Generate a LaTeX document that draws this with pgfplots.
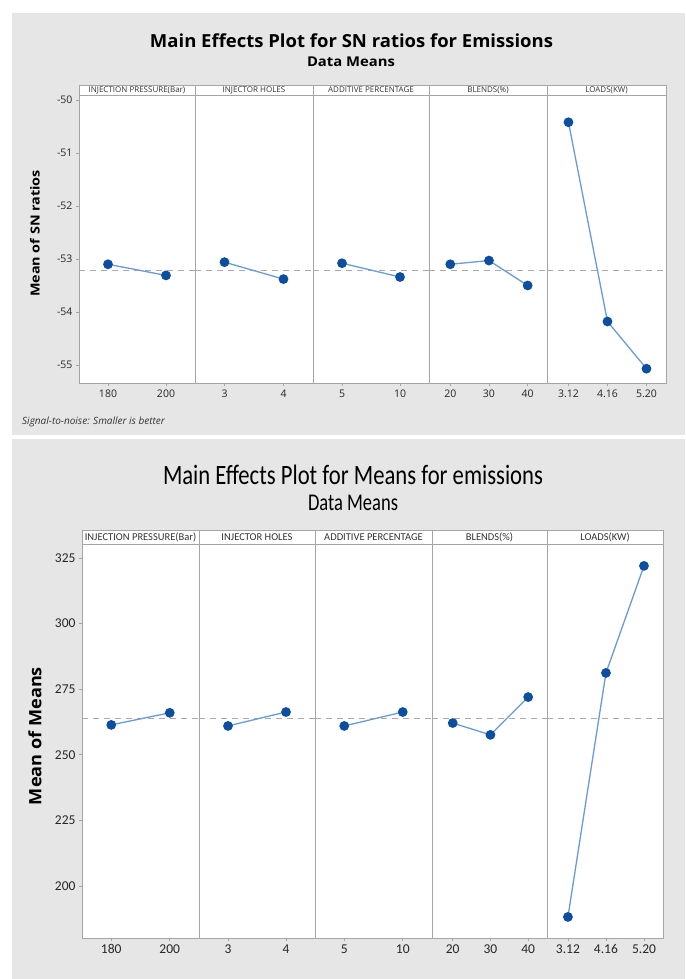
\documentclass[border=0pt]{standalone}
\usepackage{fontspec}
\setmainfont{Open Sans}
\newfontfamily\cl{Carlito}
\usepackage{graphicx}
\usepackage{pgfplots}
\pgfplotsset{compat=1.18}

\definecolor{bg}{RGB}{230,230,230}
\definecolor{frame}{RGB}{165,165,165}
\definecolor{mk}{RGB}{12,78,160}
\definecolor{ln}{RGB}{105,155,215}
\definecolor{refl}{RGB}{170,170,170}

% strip above each panel: label, font, height
\newcommand{\strip}[3]{%
  \draw[frame, line width=0.8pt, fill=white] (rel axis cs:0,1) rectangle ([yshift=#3]rel axis cs:1,1);
  \node[font=#2, text=black!80, inner sep=0pt] at ([yshift=#3/2]rel axis cs:0.5,1) {#1};}

\pgfplotsset{
  mep/.style={anchor=south west, scale only axis,
    axis background/.style={fill=white},
    axis line style={draw=frame, line width=0.8pt},
    tick style={draw=frame, line width=0.6pt},
    tick align=outside, major tick length=3pt,
    xtick pos=bottom, ytick pos=left, ytick=\empty,
    clip=false,
    /pgf/number format/assume math mode=true},
  topax/.style={mep, height=288pt, ymin=-55.34, ymax=-49.906,
    ticklabel style={font=\fontsize{10.5}{12}\selectfont, text=black!85}},
  botax/.style={mep, height=394pt, ymin=180.18, ymax=330.34,
    ticklabel style={font=\cl\fontsize{13.5}{15}\selectfont, text=black!85}},
  two/.style={xmin=0.5, xmax=2.5, xtick={1,2}},
  three/.style={xmin=0.45, xmax=3.5, xtick={1,2,3}},
  ser/.style={color=ln, line width=1.3pt, mark=*, mark size=4.2pt, mark options={fill=mk, draw=mk}},
  refline/.style={color=refl, line width=1.1pt, dash pattern=on 6pt off 5pt},
}

\begin{document}
\begin{tikzpicture}[x=1pt, y=1pt]
\fill[white] (0,0) rectangle (685,979);
\useasboundingbox (0,0) rectangle (685,979);
\fill[bg] (12,544) rectangle (685,966);
\fill[bg] (12,0) rectangle (685,540);

% ---------- top chart: SN ratios ----------
\node[anchor=base, inner sep=0pt] at (351.5,931) {\resizebox{403pt}{\height}{\fontsize{18}{20}\selectfont\bfseries Main Effects Plot for SN ratios for Emissions}};
\node[anchor=base, inner sep=0pt] at (351,912) {\resizebox{88pt}{\height}{\fontsize{13.5}{15}\selectfont\bfseries Data Means}};
\node[rotate=90, inner sep=0pt] at (35,745.5) {\resizebox{127pt}{\height}{\fontsize{12.5}{15}\selectfont\bfseries Mean of SN ratios}};
\node[anchor=base west, inner sep=0pt, font=\fontsize{10}{12}\selectfont\itshape, text=black!80] at (22,554) {Signal-to-noise: Smaller is better};

\begin{axis}[topax, two, at={(79pt,596pt)}, width=116pt, xticklabels={180,200},
  ytick={-55,-54,-53,-52,-51,-50}, yticklabels={-55,-54,-53,-52,-51,-50}]
\addplot[refline] coordinates {(0.5,-53.22)(2.5,-53.22)};
\addplot[ser] coordinates {(1,-53.10)(2,-53.31)};
\strip{INJECTION PRESSURE(Bar)}{\fontsize{8}{9}\selectfont}{10pt}
\end{axis}
\begin{axis}[topax, two, at={(195pt,596pt)}, width=118pt, xticklabels={3,4}]
\addplot[refline] coordinates {(0.5,-53.22)(2.5,-53.22)};
\addplot[ser] coordinates {(1,-53.06)(2,-53.38)};
\strip{INJECTOR HOLES}{\fontsize{8}{9}\selectfont}{10pt}
\end{axis}
\begin{axis}[topax, two, at={(313pt,596pt)}, width=116pt, xticklabels={5,10}]
\addplot[refline] coordinates {(0.5,-53.22)(2.5,-53.22)};
\addplot[ser] coordinates {(1,-53.08)(2,-53.34)};
\strip{ADDITIVE PERCENTAGE}{\fontsize{8}{9}\selectfont}{10pt}
\end{axis}
\begin{axis}[topax, three, at={(429pt,596pt)}, width=118pt, xticklabels={20,30,40}]
\addplot[refline] coordinates {(0.45,-53.22)(3.5,-53.22)};
\addplot[ser] coordinates {(1,-53.10)(2,-53.03)(3,-53.50)};
\strip{BLENDS(\%)}{\fontsize{8}{9}\selectfont}{10pt}
\end{axis}
\begin{axis}[topax, three, at={(547pt,596pt)}, width=119pt, xticklabels={3.12,4.16,5.20}]
\addplot[refline] coordinates {(0.45,-53.22)(3.5,-53.22)};
\addplot[ser] coordinates {(1,-50.42)(2,-54.18)(3,-55.07)};
\strip{LOADS(KW)}{\fontsize{8}{9}\selectfont}{10pt}
\end{axis}

% ---------- bottom chart: means ----------
\node[anchor=base, inner sep=0pt] at (353,494) {\resizebox{380pt}{\height}{\cl\fontsize{28}{30}\selectfont Main Effects Plot for Means for emissions}};
\node[anchor=base, inner sep=0pt] at (353,468) {\resizebox{90pt}{\height}{\cl\fontsize{24}{26}\selectfont Data Means}};
\node[rotate=90, inner sep=0pt] at (35,243) {\resizebox{138pt}{\height}{\fontsize{17}{19}\selectfont\bfseries Mean of Means}};

\begin{axis}[botax, two, at={(82pt,41pt)}, width=117pt, xticklabels={180,200},
  ytick={200,225,250,275,300,325}]
\addplot[refline] coordinates {(0.5,263.7)(2.5,263.7)};
\addplot[ser] coordinates {(1,261.4)(2,266.0)};
\strip{INJECTION PRESSURE(Bar)}{\cl\fontsize{10.5}{11}\selectfont}{14pt}
\end{axis}
\begin{axis}[botax, two, at={(199pt,41pt)}, width=116pt, xticklabels={3,4}]
\addplot[refline] coordinates {(0.5,263.7)(2.5,263.7)};
\addplot[ser] coordinates {(1,261.0)(2,266.3)};
\strip{INJECTOR HOLES}{\cl\fontsize{10.5}{11}\selectfont}{14pt}
\end{axis}
\begin{axis}[botax, two, at={(315pt,41pt)}, width=117pt, xticklabels={5,10}]
\addplot[refline] coordinates {(0.5,263.7)(2.5,263.7)};
\addplot[ser] coordinates {(1,261.0)(2,266.3)};
\strip{ADDITIVE PERCENTAGE}{\cl\fontsize{10.5}{11}\selectfont}{14pt}
\end{axis}
\begin{axis}[botax, three, at={(432pt,41pt)}, width=115pt, xticklabels={20,30,40}]
\addplot[refline] coordinates {(0.45,263.7)(3.5,263.7)};
\addplot[ser] coordinates {(1,262.1)(2,257.6)(3,272.0)};
\strip{BLENDS(\%)}{\cl\fontsize{10.5}{11}\selectfont}{14pt}
\end{axis}
\begin{axis}[botax, three, at={(547pt,41pt)}, width=116pt, xticklabels={3.12,4.16,5.20}]
\addplot[refline] coordinates {(0.45,263.7)(3.5,263.7)};
\addplot[ser] coordinates {(1,188.2)(2,281.2)(3,322.0)};
\strip{LOADS(KW)}{\cl\fontsize{10.5}{11}\selectfont}{14pt}
\end{axis}
\end{tikzpicture}
\end{document}
